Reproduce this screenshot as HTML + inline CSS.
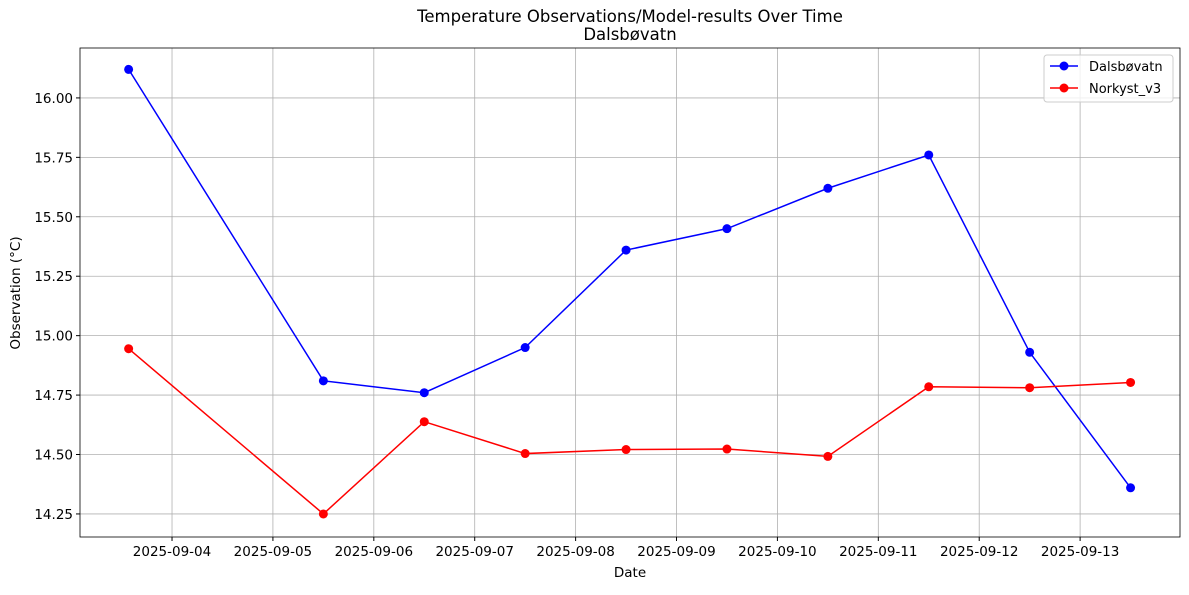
<!DOCTYPE html>
<html><head><meta charset="utf-8"><style>body{margin:0;background:#fff}svg{font-family:"DejaVu Sans","Liberation Sans",sans-serif}</style></head>
<body>
<svg id="chart" width="1189" height="590"></svg>
<script>
const xTickLabels=["2025-09-04","2025-09-05","2025-09-06","2025-09-07","2025-09-08","2025-09-09","2025-09-10","2025-09-11","2025-09-12","2025-09-13"];
const xTickValues=[0,1,2,3,4,5,6,7,8,9];
const dates=[-0.43,1.5,2.5,3.5,4.5,5.5,6.5,7.5,8.5,9.5];
const dalsbovatn=[16.12,14.81,14.76,14.95,15.36,15.45,15.62,15.76,14.93,14.36];
const norkyst=[14.945,14.25,14.638,14.504,14.521,14.523,14.492,14.785,14.781,14.803];
const yTicks=[14.25,14.5,14.75,15.0,15.25,15.5,15.75,16.0];
const L=80,R=1180,T=48,B=537;
const x0=-0.912,x1=9.99,y0=14.153,y1=16.21;
const sx=v=>L+(v-x0)/(x1-x0)*(R-L);
const sy=v=>B-(v-y0)/(y1-y0)*(B-T);
const svg=document.getElementById('chart');const NS='http://www.w3.org/2000/svg';
function mk(t,a,p){const e=document.createElementNS(NS,t);for(const k in a)e.setAttribute(k,a[k]);(p||svg).appendChild(e);return e;}
const g=mk('g',{});


xTickValues.forEach((v,i)=>{const x=sx(v);
mk('line',{x1:x,x2:x,y1:T,y2:B,stroke:'#b0b0b0','stroke-width':0.8},g);
mk('line',{x1:x,x2:x,y1:B,y2:B+4,stroke:'#000'});
const t=mk('text',{x:x,y:B+19,'text-anchor':'middle','font-size':13.5});t.textContent=xTickLabels[i];

});
yTicks.forEach(v=>{const y=sy(v);
mk('line',{x1:L,x2:R,y1:y,y2:y,stroke:'#b0b0b0','stroke-width':0.8},g);
mk('line',{x1:L-4,x2:L,y1:y,y2:y,stroke:'#000'});
const t=mk('text',{x:L-7,y:y+5,'text-anchor':'end','font-size':13.5});t.textContent=v.toFixed(2);

});
function series(vals,color,name){const gg=mk('g',{});


mk('polyline',{points:vals.map((v,i)=>sx(dates[i])+','+sy(v)).join(' '),fill:'none',stroke:color,'stroke-width':1.5},gg);
vals.forEach((v,i)=>{const c=mk('circle',{cx:sx(dates[i]),cy:sy(v),r:4.5,fill:color},gg);

});}
series(dalsbovatn,'#0000ff','dalsbovatn-series');
series(norkyst,'#ff0000','norkyst-series');
mk('rect',{x:L,y:T,width:R-L,height:B-T,fill:'none',stroke:'#000','stroke-width':0.8});
</script>
<svg width="1189" height="590" style="position:absolute;left:0;top:0" font-family="DejaVu Sans, Liberation Sans, sans-serif">
<text x="630" y="22" text-anchor="middle" font-size="16.5">Temperature Observations/Model-results Over Time</text>
<text x="630" y="40" text-anchor="middle" font-size="16.5">Dalsbøvatn</text>
<text x="630" y="577" text-anchor="middle" font-size="13.5">Date</text>
<text x="20" y="293" text-anchor="middle" font-size="13.5" transform="rotate(-90 20 293)">Observation (°C)</text>
<g>
<rect x="1044" y="55" width="129" height="47" rx="3" fill="#fff" fill-opacity="0.8" stroke="#ccc"/>
<line x1="1050" x2="1078" y1="66" y2="66" stroke="#0000ff" stroke-width="1.5"/><circle cx="1064" cy="66" r="4.5" fill="#0000ff"/>
<text x="1089" y="71" font-size="13">Dalsbøvatn</text>
<line x1="1050" x2="1078" y1="88" y2="88" stroke="#ff0000" stroke-width="1.5"/><circle cx="1064" cy="88" r="4.5" fill="#ff0000"/>
<text x="1089" y="93" font-size="13">Norkyst_v3</text>
</g></svg>
</body></html>
